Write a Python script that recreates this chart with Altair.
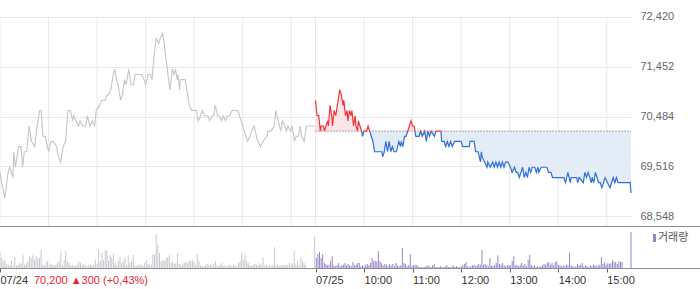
import altair as alt
import pandas as pd
import numpy as np

# ---------------- data ----------------
BASE = 70200                      # 07/24 close = 07/25 reference price
SUMMARY = "70,200 \u25b2300 (+0,43%)"
LEGEND = "거래량"

Y_TICKS = [68548, 69516, 70484, 71452, 72420]
X_TICK_MIN = [0, 390, 450, 510, 570, 630, 690, 750]
X_TICK_LAB = ["07/24", "07/25", "10:00", "11:00", "12:00", "13:00", "14:00", "15:00"]
GRID_MIN = [0, 60, 120, 180, 240, 300, 360, 390, 450, 510, 570, 630, 690, 750]

# 07/24 price (minutes after 09:00)
d1_min = [0, 2, 6, 10, 12, 16, 17, 19, 23, 26,
          28, 30, 33, 36, 39, 43, 45, 49, 51, 53,
          56, 60, 63, 66, 70, 72, 75, 78, 81, 84,
          87, 90, 91, 94, 97, 99, 102, 106, 108, 111,
          114, 117, 119, 123, 126, 130, 132, 134, 137, 140,
          142, 144, 146, 149, 151, 154, 156, 159, 162, 165,
          167, 171, 175, 178, 180, 183, 186, 188, 190, 193,
          196, 198, 201, 203, 205, 206, 210, 213, 215, 217,
          219, 220, 222, 223, 229, 232, 234, 237, 243, 245,
          248, 250, 253, 257, 259, 262, 264, 266, 269, 271,
          274, 276, 279, 281, 284, 287, 294, 296, 298, 300,
          302, 306, 309, 311, 314, 317, 319, 322, 325, 330,
          331, 335, 339, 341, 344, 347, 349, 352, 354, 356,
          359, 361, 364, 366, 369, 371, 373, 376, 379, 390]
d1_price = [69400, 69200, 68900, 69400, 69500, 69300, 69800, 69500, 69900, 69900,
            69500, 69800, 69800, 70300, 70000, 69900, 70200, 70600, 70600, 70100,
            70100, 69800, 70000, 70000, 69900, 69700, 69600, 69900, 70000, 70600,
            70600, 70400, 70500, 70400, 70300, 70400, 70300, 70300, 70500, 70300,
            70400, 70300, 70600, 70700, 70800, 70800, 70900, 70900, 71000, 71300,
            71400, 71200, 71100, 70800, 70900, 71200, 71100, 71400, 71100, 71100,
            71300, 71300, 71300, 71200, 71100, 71300, 71300, 71200, 71600, 72000,
            71900, 72000, 72100, 71900, 71600, 71500, 71000, 71400, 71300, 71400,
            71200, 71300, 71000, 71200, 71200, 70900, 70700, 70600, 70600, 70400,
            70500, 70600, 70500, 70500, 70400, 70500, 70500, 70700, 70500, 70500,
            70400, 70500, 70400, 70500, 70500, 70600, 70600, 70500, 70400, 70300,
            70200, 70000, 70100, 70200, 70300, 70100, 70000, 69900, 70000, 70100,
            70200, 70200, 70300, 70600, 70400, 70200, 70400, 70300, 70200, 70300,
            70200, 70300, 70000, 70100, 70100, 70300, 70100, 70000, 70300, 70300]

# 07/25 price (minutes after 09:00)
d2_min = [0, 2, 4, 6, 7, 10, 11, 13, 15, 16,
          18, 20, 21, 23, 25, 26, 28, 30, 32, 34,
          35, 37, 39, 40, 42, 44, 45, 47, 49, 50,
          52, 53, 55, 57, 58, 60, 63, 65, 67, 69,
          71, 73, 82, 83, 85, 87, 89, 91, 93, 95,
          97, 100, 103, 105, 106, 108, 110, 112, 114, 116,
          118, 120, 122, 124, 128, 130, 132, 135, 137, 139,
          141, 143, 147, 149, 155, 156, 159, 161, 163, 165,
          167, 169, 172, 180, 182, 190, 191, 196, 198, 201,
          204, 205, 206, 209, 212, 213, 216, 219, 221, 223,
          225, 227, 229, 231, 233, 235, 238, 241, 243, 246,
          248, 250, 252, 254, 256, 258, 260, 262, 264, 266,
          268, 271, 273, 275, 276, 279, 286, 288, 291, 293,
          297, 299, 303, 307, 309, 312, 315, 316, 323, 324,
          326, 331, 333, 335, 337, 339, 341, 342, 344, 346,
          348, 350, 352, 354, 356, 358, 361, 364, 366, 368,
          370, 372, 374, 389, 390]
d2_price = [70800, 70500, 70500, 70200, 70300, 70300, 70200, 70300, 70400, 70300,
            70700, 70500, 70300, 70600, 70500, 70600, 70800, 71000, 70900, 70700,
            70800, 70500, 70600, 70400, 70600, 70500, 70600, 70300, 70500, 70300,
            70200, 70400, 70300, 70200, 70100, 70200, 70200, 70300, 70200, 70100,
            70000, 69800, 69800, 69700, 69800, 70000, 69800, 70000, 69800, 69900,
            69800, 69800, 70000, 69900, 70000, 69900, 70100, 70100, 70200, 70300,
            70400, 70300, 70300, 70100, 70100, 70200, 70100, 70200, 70000, 70200,
            70100, 70200, 70100, 70200, 70200, 70000, 70000, 69900, 70000, 69900,
            70000, 69900, 70000, 70000, 69900, 69900, 70000, 70000, 69800, 69800,
            69600, 69800, 69700, 69600, 69500, 69600, 69500, 69600, 69500, 69600,
            69500, 69600, 69500, 69600, 69500, 69600, 69600, 69500, 69400, 69500,
            69400, 69400, 69300, 69400, 69500, 69300, 69400, 69300, 69500, 69400,
            69500, 69500, 69400, 69500, 69400, 69500, 69500, 69400, 69400, 69300,
            69300, 69300, 69300, 69300, 69200, 69400, 69200, 69300, 69300, 69200,
            69300, 69200, 69400, 69300, 69400, 69300, 69200, 69300, 69200, 69400,
            69300, 69200, 69200, 69100, 69200, 69300, 69200, 69100, 69200, 69300,
            69200, 69300, 69200, 69200, 69000]

# volume (thousand shares), continuous session 09:00-15:20, then closing auction
d1_vol = [160, 100, 67, 83, 40, 33, 27, 73, 27, 107,
          27, 33, 50, 40, 127, 33, 50, 67, 117, 100,
          127, 83, 117, 93, 100, 183, 33, 27, 57, 73,
          27, 40, 33, 27, 33, 50, 67, 167, 27, 83,
          167, 67, 50, 27, 33, 17, 27, 33, 67, 50,
          27, 40, 27, 17, 27, 33, 27, 33, 83, 40,
          183, 67, 150, 83, 183, 173, 73, 127, 107, 140,
          50, 33, 67, 107, 50, 67, 107, 33, 127, 50,
          67, 127, 27, 17, 33, 27, 33, 17, 50, 83,
          40, 27, 33, 140, 133, 340, 233, 150, 67, 83,
          67, 100, 107, 127, 50, 67, 40, 50, 150, 40,
          27, 33, 50, 67, 50, 73, 67, 83, 60, 33,
          140, 67, 27, 17, 17, 27, 40, 27, 33, 27,
          40, 67, 27, 17, 33, 50, 17, 27, 17, 27,
          33, 17, 33, 27, 17, 50, 67, 150, 83, 133,
          67, 50, 27, 17, 33, 40, 33, 27, 50, 33,
          107, 27, 33, 17, 27, 17, 33, 207, 27, 33,
          17, 27, 33, 27, 33, 27, 50, 33, 50, 167,
          33, 73, 27, 107, 67, 50, 27]
d1_close_vol = 317
d2_vol = [100, 140, 160, 100, 140, 50, 40, 27, 33, 67,
          117, 27, 17, 27, 50, 17, 27, 33, 50, 27,
          40, 27, 17, 60, 27, 33, 50, 50, 17, 27,
          17, 33, 40, 27, 50, 100, 67, 73, 67, 167,
          67, 50, 27, 40, 33, 17, 40, 27, 40, 17,
          50, 27, 17, 27, 200, 50, 40, 17, 27, 140,
          17, 27, 33, 27, 17, 7, 10, 7, 10, 17,
          27, 17, 10, 27, 40, 10, 7, 10, 17, 10,
          7, 17, 27, 10, 7, 10, 27, 10, 17, 10,
          7, 17, 27, 40, 60, 17, 10, 17, 27, 33,
          17, 27, 40, 33, 180, 33, 40, 27, 17, 100,
          27, 17, 33, 50, 127, 40, 33, 50, 27, 17,
          27, 33, 27, 73, 117, 27, 33, 17, 33, 50,
          27, 40, 17, 83, 133, 33, 17, 27, 10, 17,
          10, 17, 27, 40, 33, 50, 60, 33, 50, 27,
          60, 67, 33, 27, 17, 27, 17, 33, 27, 150,
          27, 17, 10, 17, 40, 27, 33, 50, 17, 27,
          17, 10, 27, 17, 33, 27, 17, 27, 33, 107,
          40, 60, 33, 50, 40, 50, 77, 60, 60, 40,
          67, 60, 60]
d2_close_vol = 360

assert len(d1_min) == len(d1_price)
assert len(d2_min) == len(d2_price)

# ---------------- styling ----------------
W, H = 631, 268
MAIN_TOP, MAIN_BOT = 16.7, 226
VOL_TOP = 232
GRID = "#e9e9eb"
GRAY_LINE = "#c3c5ca"
RED = "#f0353d"
BLUE = "#2f6fd8"
PINK = "#fde5e7"
LBLUE = "#e4ecf8"
VGRAY = "#c6c8cc"
PURPLE = "#9a84c8"
FONT = "Liberation Sans"

# ---------------- frames ----------------
p1 = pd.DataFrame({"m": d1_min, "p": d1_price})
p2 = pd.DataFrame({"m": [390 + m for m in d2_min], "p": d2_price})
p2["base"] = BASE
p2["up"] = np.maximum(p2["p"], BASE)
p2["lo"] = np.minimum(p2["p"], BASE)

v1 = pd.DataFrame({"m": list(np.linspace(0, 378, len(d1_vol))) + [389],
                   "vol": d1_vol + [d1_close_vol]})
v2 = pd.DataFrame({"m": list(391 + np.linspace(0, 378, len(d2_vol))) + [780],
                   "vol": d2_vol + [d2_close_vol]})
vmax = max(max(v1["vol"]), max(v2["vol"]))

xs = alt.Scale(domain=[0, 780], nice=False, zero=False, padding=0)
ys = alt.Scale(domain=[68360, 72420], range=[MAIN_BOT, MAIN_TOP], nice=False, zero=False)
vs = alt.Scale(domain=[0, vmax], range=[H, VOL_TOP], nice=False, zero=True)

label_expr = "".join(f"datum.value == {m} ? '{l}' : " for m, l in zip(X_TICK_MIN, X_TICK_LAB)) + "''"
x_axis = alt.Axis(values=X_TICK_MIN, labelExpr=label_expr, title=None, grid=False,
                  domain=False, ticks=True, tickSize=4, tickColor="#666",
                  labelAlign="left", labelPadding=2, labelFont=FONT, labelFontSize=11,
                  labelColor="#333", labelFlush=False, labelOverlap=False)
y_axis = alt.Axis(values=Y_TICKS, format=",d", orient="right", title=None, grid=True,
                  gridColor=GRID, domain=False, ticks=False, labelPadding=9,
                  labelFont=FONT, labelFontSize=11, labelColor="#666",
                  labelFlush=False, labelOverlap=False)

# gradient for the 07/25 line: red above the reference price, blue below
pmax, pmin = max(d2_price), min(d2_price)
f = (pmax - BASE + 15) / (pmax - pmin)
grad = alt.LinearGradient(gradient="linear", x1=0, x2=0, y1=0, y2=1,
                          stops=[alt.GradientStop(offset=0, color=RED),
                                 alt.GradientStop(offset=f, color=RED),
                                 alt.GradientStop(offset=f, color=BLUE),
                                 alt.GradientStop(offset=1, color=BLUE)])

X = alt.X("m:Q", scale=xs, axis=x_axis)

vgrid = alt.Chart(pd.DataFrame({"m": GRID_MIN})).mark_rule(color=GRID, strokeWidth=1).encode(
    x=X, y=alt.value(MAIN_TOP), y2=alt.value(MAIN_BOT))

line1 = alt.Chart(p1).mark_line(color=GRAY_LINE, strokeWidth=1.1).encode(
    x=X, y=alt.Y("p:Q", scale=ys, axis=y_axis))

area_up = alt.Chart(p2).mark_area(color=PINK, opacity=1).encode(
    x=X, y=alt.Y("up:Q", scale=ys, axis=y_axis), y2="base:Q")
area_lo = alt.Chart(p2).mark_area(color=LBLUE, opacity=1).encode(
    x=X, y=alt.Y("lo:Q", scale=ys, axis=y_axis), y2="base:Q")

base_rule = alt.Chart(pd.DataFrame({"m": [390], "m2": [780], "b": [BASE]})).mark_rule(
    color="#555", strokeWidth=1, strokeDash=[1, 2]).encode(
    x=X, x2="m2:Q", y=alt.Y("b:Q", scale=ys, axis=y_axis))

line2 = alt.Chart(p2).mark_line(color=grad, strokeWidth=1.2).encode(
    x=X, y=alt.Y("p:Q", scale=ys, axis=y_axis))

price = alt.layer(vgrid, line1, area_up, area_lo, base_rule, line2)

bars1 = alt.Chart(v1).mark_bar(size=1, color=VGRAY).encode(
    x=X, y=alt.Y("vol:Q", scale=vs, axis=None))
bars2 = alt.Chart(v2).mark_bar(size=1, color=PURPLE).encode(
    x=X, y=alt.Y("vol:Q", scale=vs, axis=None))
volume = alt.layer(bars1, bars2)

one = pd.DataFrame({"a": [0]})
sep1 = alt.Chart(one).mark_rule(color="#8a8e94", strokeWidth=1.2).encode(
    x=alt.value(0), x2=alt.value(700), y=alt.value(MAIN_BOT + 0.5))
sep2 = alt.Chart(one).mark_rule(color="#8a8e94", strokeWidth=1.2).encode(
    x=alt.value(0), x2=alt.value(700), y=alt.value(H + 0.5))

summary = alt.Chart(pd.DataFrame({"t": [SUMMARY]})).mark_text(
    align="left", baseline="middle", font=FONT, fontSize=11, color="#e8262e").encode(
    x=alt.value(34), y=alt.value(280.5), text="t:N")

leg_mark = alt.Chart(one).mark_rect(color=PURPLE).encode(
    x=alt.value(653), x2=alt.value(656), y=alt.value(234), y2=alt.value(242))
leg_text = alt.Chart(pd.DataFrame({"t": [LEGEND]})).mark_text(
    align="left", baseline="middle", font="Noto Sans CJK KR", fontSize=11, color="#555").encode(
    x=alt.value(658), y=alt.value(238), text="t:N")

chart = alt.layer(price, volume, sep1, sep2, summary, leg_mark, leg_text).resolve_scale(
    y="independent"
).properties(
    width=W, height=H,
    autosize=alt.AutoSizeParams(type="none"),
    padding={"left": 0, "top": 0, "right": 700 - W, "bottom": 289 - H},
).configure_view(stroke=None)

chart.save("out.html", embed_options={"renderer": "svg", "actions": False})
